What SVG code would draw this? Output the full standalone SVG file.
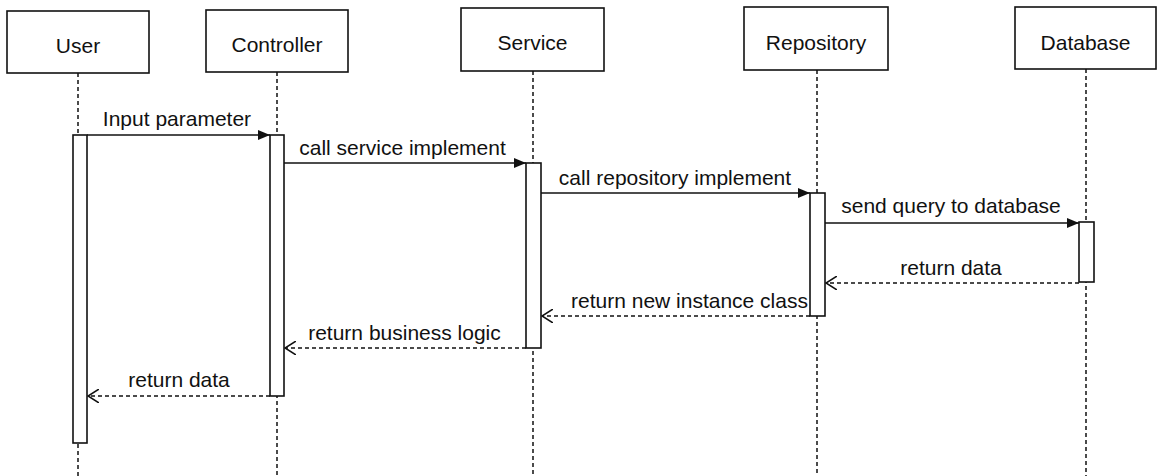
<svg xmlns="http://www.w3.org/2000/svg" width="1158" height="476" viewBox="0 0 1158 476">
<style>
.box{fill:#fff;stroke:#111;stroke-width:1.6}
.act{fill:#fff;stroke:#111;stroke-width:1.6}
.life{stroke:#111;stroke-width:1.5;stroke-dasharray:4 3;fill:none}
.msg{stroke:#111;stroke-width:1.5;fill:none}
.ret{stroke:#111;stroke-width:1.5;fill:none;stroke-dasharray:4 3}
text{font-family:"Liberation Sans",Arial,sans-serif;font-size:21px;fill:#111;text-anchor:middle}
</style>
<defs>
<marker id="solid" viewBox="0 0 12 10" refX="12" refY="5" markerWidth="12" markerHeight="10" markerUnits="userSpaceOnUse" orient="auto">
<path d="M0,0 L12,5 L0,10 Z" fill="#111"/>
</marker>
<marker id="open" viewBox="0 0 12 14" refX="11" refY="7" markerWidth="12" markerHeight="14" markerUnits="userSpaceOnUse" orient="auto">
<path d="M0,0 L11,7 L0,14" fill="none" stroke="#111" stroke-width="1.5"/>
</marker>
</defs>
<rect width="1158" height="476" fill="#fff"/>
<g id="lifelines">
<line class="life" x1="78" y1="73" x2="78" y2="476"/>
<line class="life" x1="277" y1="72" x2="277" y2="476"/>
<line class="life" x1="533" y1="71" x2="533" y2="476"/>
<line class="life" x1="817" y1="70" x2="817" y2="476"/>
<line class="life" x1="1086" y1="69" x2="1086" y2="476"/>
</g>
<g id="user">
<rect class="box" x="7" y="11" width="142" height="62"/>
<text x="78" y="53">User</text>
<rect class="act" x="73" y="135" width="14" height="308"/>
</g>
<g id="controller">
<rect class="box" x="206" y="10" width="142" height="62"/>
<text x="277" y="52">Controller</text>
<rect class="act" x="270" y="135" width="14" height="261"/>
</g>
<g id="service">
<rect class="box" x="461" y="8" width="143" height="63"/>
<text x="532.5" y="50">Service</text>
<rect class="act" x="526" y="163" width="15" height="185"/>
</g>
<g id="repository">
<rect class="box" x="744" y="7" width="144" height="63"/>
<text x="816" y="50">Repository</text>
<rect class="act" x="810" y="193" width="15" height="123"/>
</g>
<g id="database">
<rect class="box" x="1015" y="7" width="141" height="62"/>
<text x="1085.5" y="50">Database</text>
<rect class="act" x="1079" y="222" width="15" height="60"/>
</g>
<g id="connectors">
<line class="msg" x1="87" y1="135" x2="270" y2="135" marker-end="url(#solid)"/>
<text x="177" y="126">Input parameter</text>
<line class="msg" x1="284" y1="163" x2="526" y2="163" marker-end="url(#solid)"/>
<text x="402.5" y="155">call service implement</text>
<line class="msg" x1="541" y1="193" x2="810" y2="193" marker-end="url(#solid)"/>
<text x="675" y="185">call repository implement</text>
<line class="msg" x1="825" y1="223" x2="1079" y2="223" marker-end="url(#solid)"/>
<text x="951" y="213">send query to database</text>
<line class="ret" x1="1079" y1="283" x2="826" y2="283" marker-end="url(#open)"/>
<text x="951" y="275">return data</text>
<line class="ret" x1="810" y1="316" x2="542" y2="316" marker-end="url(#open)"/>
<text x="689.5" y="308">return new instance class</text>
<line class="ret" x1="526" y1="348" x2="285" y2="348" marker-end="url(#open)"/>
<text x="404.5" y="340">return business logic</text>
<line class="ret" x1="270" y1="396" x2="88" y2="396" marker-end="url(#open)"/>
<text x="179" y="387">return data</text>
</g>
</svg>
